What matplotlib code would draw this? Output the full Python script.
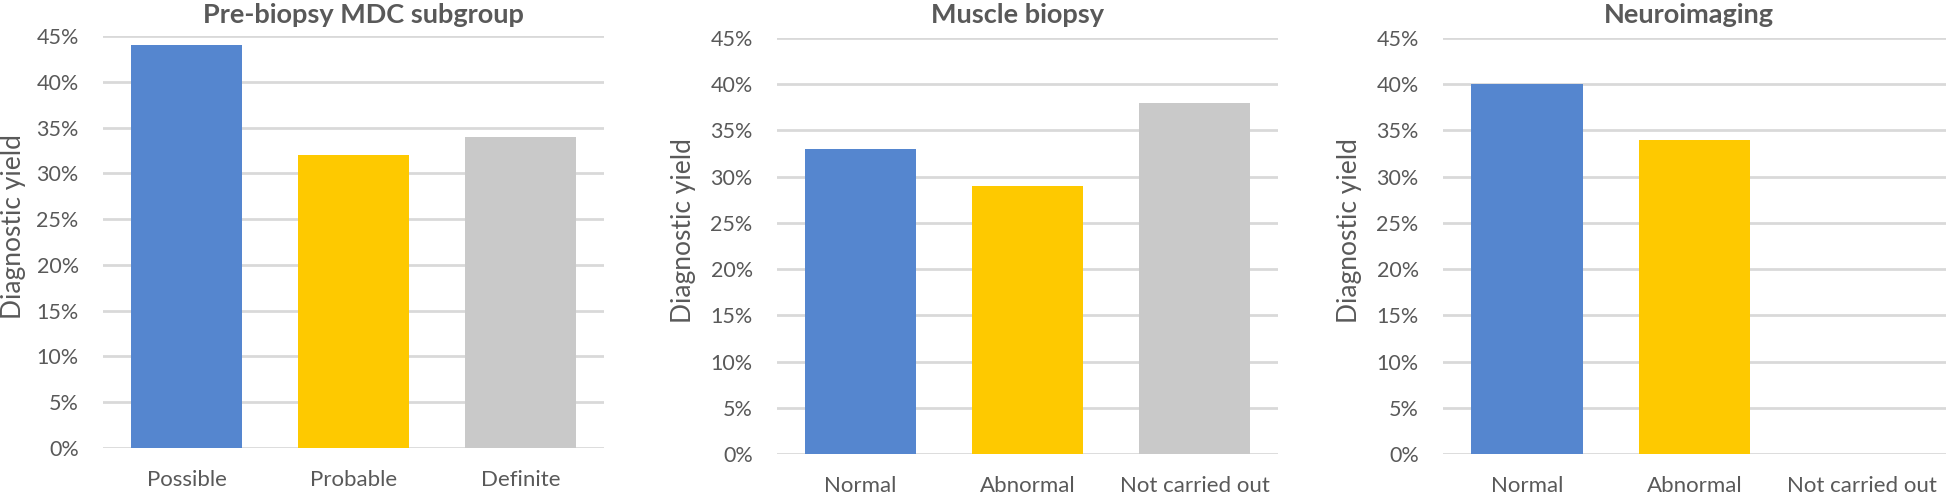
import matplotlib
matplotlib.use("Agg")
import matplotlib.pyplot as plt
from matplotlib.ticker import PercentFormatter

plt.rcParams['font.family'] = ['Lato', 'DejaVu Sans']

# data (diagnostic yield, %)
titles = ["Pre-biopsy MDC subgroup", "Muscle biopsy", "Neuroimaging"]
mdc_labels = ["Possible", "Probable", "Definite"]
mdc_yield = [44, 32, 34]
biopsy_labels = ["Normal", "Abnormal", "Not carried out"]
biopsy_yield = [33, 29, 38]
imaging_labels = ["Normal", "Abnormal", "Not carried out"]
imaging_yield = [40, 34, 0]
yticks = [0, 5, 10, 15, 20, 25, 30, 35, 40, 45]

colors = ["#5586cf", "#fec900", "#c9c9c9"]
text_col = "#595959"
grid_col = "#d9d9d9"

W, H = 1946, 499
fig = plt.figure(figsize=(W / 100, H / 100), dpi=100)

# axes boxes in pixels: left, right, y of 0%, y of 45%
boxes = [(103, 604, 448, 36), (777, 1278, 454, 38), (1443, 1946, 454, 38)]
title_x = [363, 1018, 1689]
ylab_x = [13.5, 683, 1350]

panels = [(mdc_labels, mdc_yield), (biopsy_labels, biopsy_yield),
          (imaging_labels, imaging_yield)]

for i, (labels, vals) in enumerate(panels):
    l, r, y0, y45 = boxes[i]
    ax = fig.add_axes([l / W, 1 - y0 / H, (r - l) / W, (y0 - y45) / H])
    ax.bar(range(len(vals)), vals, width=0.665, color=colors, zorder=3)
    ax.set_xlim(-0.5, 2.5)
    ax.set_ylim(0, 45)
    ax.set_yticks(yticks)
    ax.yaxis.set_major_formatter(PercentFormatter(decimals=0))
    ax.set_xticks(range(len(labels)))
    ax.set_xticklabels(labels)
    ax.grid(axis='y', color=grid_col, linewidth=2, zorder=0)
    ax.set_axisbelow(True)
    for s in ax.spines.values():
        s.set_visible(False)
    ax.tick_params(length=0, labelcolor=text_col)
    ax.tick_params(axis='y', pad=17.5, labelsize=15.5)
    ax.tick_params(axis='x', pad=16, labelsize=16)
    ax.set_ylabel("Diagnostic yield", fontsize=19, color=text_col)
    ax.yaxis.set_label_coords((ylab_x[i] - l) / (r - l), 0.538)
    ax.yaxis.label.set_va('center')
    fig.text(title_x[i] / W, 1 - 23 / H, titles[i], ha='center', va='baseline',
             fontsize=19.5, fontweight='bold', color=text_col)

fig.savefig("out.png", dpi=100)
